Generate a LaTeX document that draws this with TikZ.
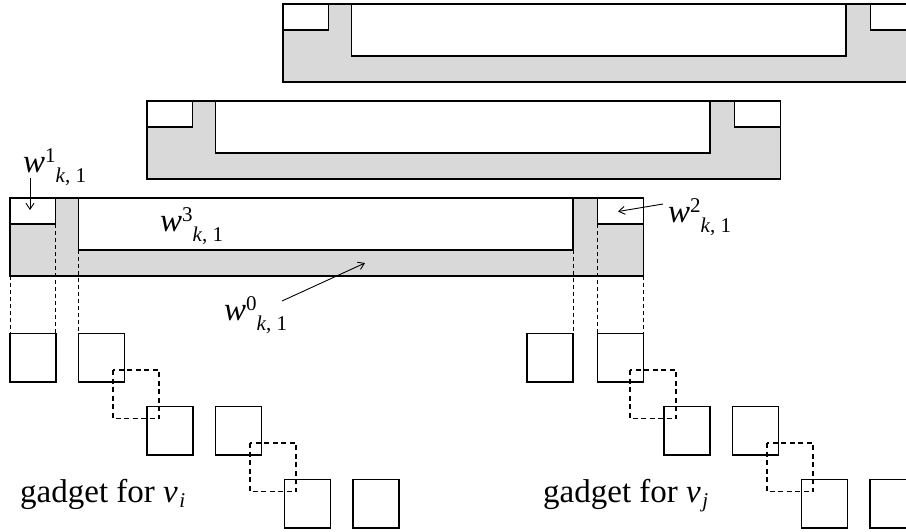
\documentclass[tikz,border=0pt]{standalone}
\usepackage{fontspec}
\setmainfont{Liberation Serif}
\usetikzlibrary{arrows.meta}
\newcommand{\wlab}[1]{{\fontsize{33}{33}\selectfont\textit{w}}\raisebox{10pt}{\fontsize{21}{21}\selectfont #1}\raisebox{-10pt}{\fontsize{21}{21}\selectfont\textit{k}, 1}}
\newcommand{\gadlab}[1]{gadget for \textit{v}\kern1.5pt\raisebox{-5pt}{\fontsize{21}{21}\selectfont\textit{#1}}}
\definecolor{barfill}{gray}{0.85}
\begin{document}
\begin{tikzpicture}[x=1pt,y=-1pt,
  barline/.style={draw=black,line width=1.7pt},
  sq/.style={draw=black,line width=1.6pt},
  dsq/.style={draw=black,line width=1.3pt,dash pattern=on 5pt off 3.5pt},
  guide/.style={draw=black,line width=0.9pt,dash pattern=on 4pt off 3pt},
  arr/.style={draw=black,line width=0.9pt,-{Straight Barb[length=6pt,width=8pt]}},
  lab/.style={inner sep=0pt,anchor=base west},
  gad/.style={inner sep=0pt,anchor=base west,font=\fontsize{33}{33}\selectfont}]
\useasboundingbox (0,0) rectangle (906,531);
\clip (0,0) rectangle (906,531);
% three stacked bars (back to front)
\foreach \dx/\dy in {273/-194,137/-97,0/0}{
  \begin{scope}[shift={(\dx,\dy)}]
    \draw[barline,fill=barfill] (10,198) rectangle (643.5,276);
    \draw[barline,fill=white] (10,198) rectangle (55.5,224);
    \draw[barline,fill=white] (78.5,198) rectangle (573,249.7);
    \draw[barline,fill=white] (597.5,198) rectangle (643.5,224);
    \draw[barline] (10,198) -- (643.5,198);
  \end{scope}
}
% guide lines
\draw[guide] (10,276) -- (10,333.5);
\draw[guide] (55.5,224) -- (55.5,333.5);
\draw[guide] (78.5,249.7) -- (78.5,333.5);
\draw[guide] (573,249.7) -- (573,333.5);
\draw[guide] (597.5,224) -- (597.5,333.5);
\draw[guide] (643.5,276) -- (643.5,333.5);
% gadget squares (left)
\foreach \x/\y in {10/333.5,78.5/333.5,147/406.5,215.5/406.5,284.5/479.5,353/479.5}{
  \draw[sq] (\x,\y) rectangle ++(46,48.5);
}
\foreach \x/\y in {113/370,250/443}{
  \draw[dsq] (\x,\y) rectangle ++(46,48.5);
}
% gadget squares (right)
\foreach \x/\y in {527/333.5,597.5/333.5,664/406.5,732.5/406.5,801.5/479.5,870/479.5}{
  \draw[sq] (\x,\y) rectangle ++(46,48.5);
}
\foreach \x/\y in {630/370,767/443}{
  \draw[dsq] (\x,\y) rectangle ++(46,48.5);
}
% labels
\node[lab] (w1) at (23,172) {\wlab{1}};
\node[lab] (w3) at (160,231) {\wlab{3}};
\node[lab] (w2) at (668,222) {\wlab{2}};
\node[lab] (w0) at (224,320) {\wlab{0}};
\coordinate (a1s) at (30,178);
\coordinate (a1e) at (30,210);
\coordinate (a2s) at (663,204);
\coordinate (a2e) at (618,211.5);
\coordinate (a0s) at (282,301);
\coordinate (a0e) at (365,263);
\draw[arr] (a1s) -- (a1e);
\draw[arr] (a2s) -- (a2e);
\draw[arr] (a0s) -- (a0e);
\node[gad] (gi) at (20,502) {\gadlab{i}};
\node[gad] (gj) at (543,502) {\gadlab{j}};
\end{tikzpicture}
\end{document}
